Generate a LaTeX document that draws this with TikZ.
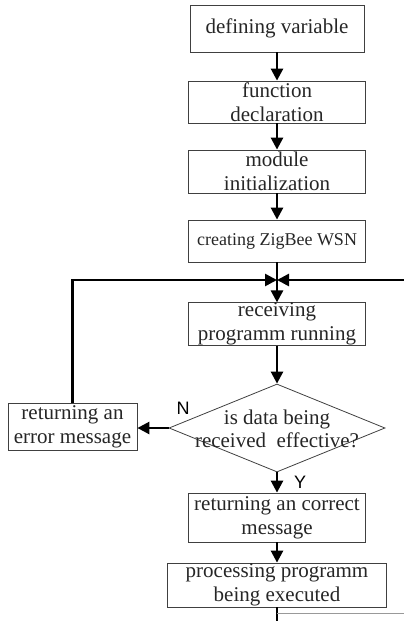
\documentclass[tikz,border=0pt]{standalone}
\usepackage{fontspec}
\setmainfont{Liberation Serif}
\newfontfamily\labelfont{Liberation Sans}
\usetikzlibrary{shapes.geometric,arrows.meta}

\begin{document}
\begin{tikzpicture}[x=1pt,y=-1pt,
   procbox/.style={draw=black!75,line width=0.8pt,rectangle,inner sep=0pt,align=center,
     text=black!85,font=\fontsize{21}{24}\selectfont,minimum width=177pt,minimum height=42pt},
   flow/.style={line width=2.6pt,-{Triangle[length=12pt,width=12pt]}},
   yn/.style={font=\labelfont\fontsize{18}{18}\selectfont,inner sep=0pt}]
   \useasboundingbox (0,0) rectangle (404,621);
   \node[procbox,minimum width=174pt,minimum height=47pt] (var) at (277,28.5) {defining variable};
   \node[procbox] (decl) at (277,102) {function\\declaration};
   \node[procbox,minimum height=43pt] (init) at (277,171.5) {module\\initialization};
   \node[procbox,font=\fontsize{18}{20}\selectfont] (wsn) at (277,241) {creating ZigBee WSN};
   \node[procbox] (recv) at (277,324) {receiving\\programm running};
   \node[diamond,draw=black!75,line width=0.8pt,inner sep=0pt,
     minimum width=216pt,minimum height=88pt] (chk) at (277,428) {};
   \node[align=center,text=black!85,font=\fontsize{21}{23}\selectfont,inner sep=0pt]
     (chktext) at (277,429) {is data being\\received\ \ effective?};
   \node[procbox,minimum width=129pt,minimum height=47pt] (err) at (72.5,427) {returning an\\error message};
   \node[procbox,minimum height=49pt] (ok) at (277,517.5) {returning an correct\\message};
   \node[procbox,minimum width=219pt,minimum height=44pt] (proc) at (277,585) {processing programm\\being executed};
   \node[yn] (nlab) at (183,408) {N};
   \node[yn] (ylab) at (300,482) {Y};
   \coordinate (junc) at (277,280);
   \coordinate (rin) at (404,280);
   \coordinate (bot) at (277,621);
   \coordinate (cut) at (404,613);

   \draw[flow] (var) -- (decl);
   \draw[flow] (decl) -- (init);
   \draw[flow] (init) -- (wsn);
   \draw[flow] (wsn) -- (recv);
   \draw[flow] (err.north) |- (junc);
   \draw[flow] (rin) -- (junc);
   \draw[flow] (recv) -- (chk);
   \draw[flow] (chk.west) -- (chk.west -| err.east);
   \draw[flow] (chk) -- (ok);
   \draw[flow] (ok) -- (proc);
   \draw[line width=2.6pt] (proc) -- (bot);
   \draw[black!40,line width=0.5pt] (bot |- cut) -- (cut);
\end{tikzpicture}
\end{document}
